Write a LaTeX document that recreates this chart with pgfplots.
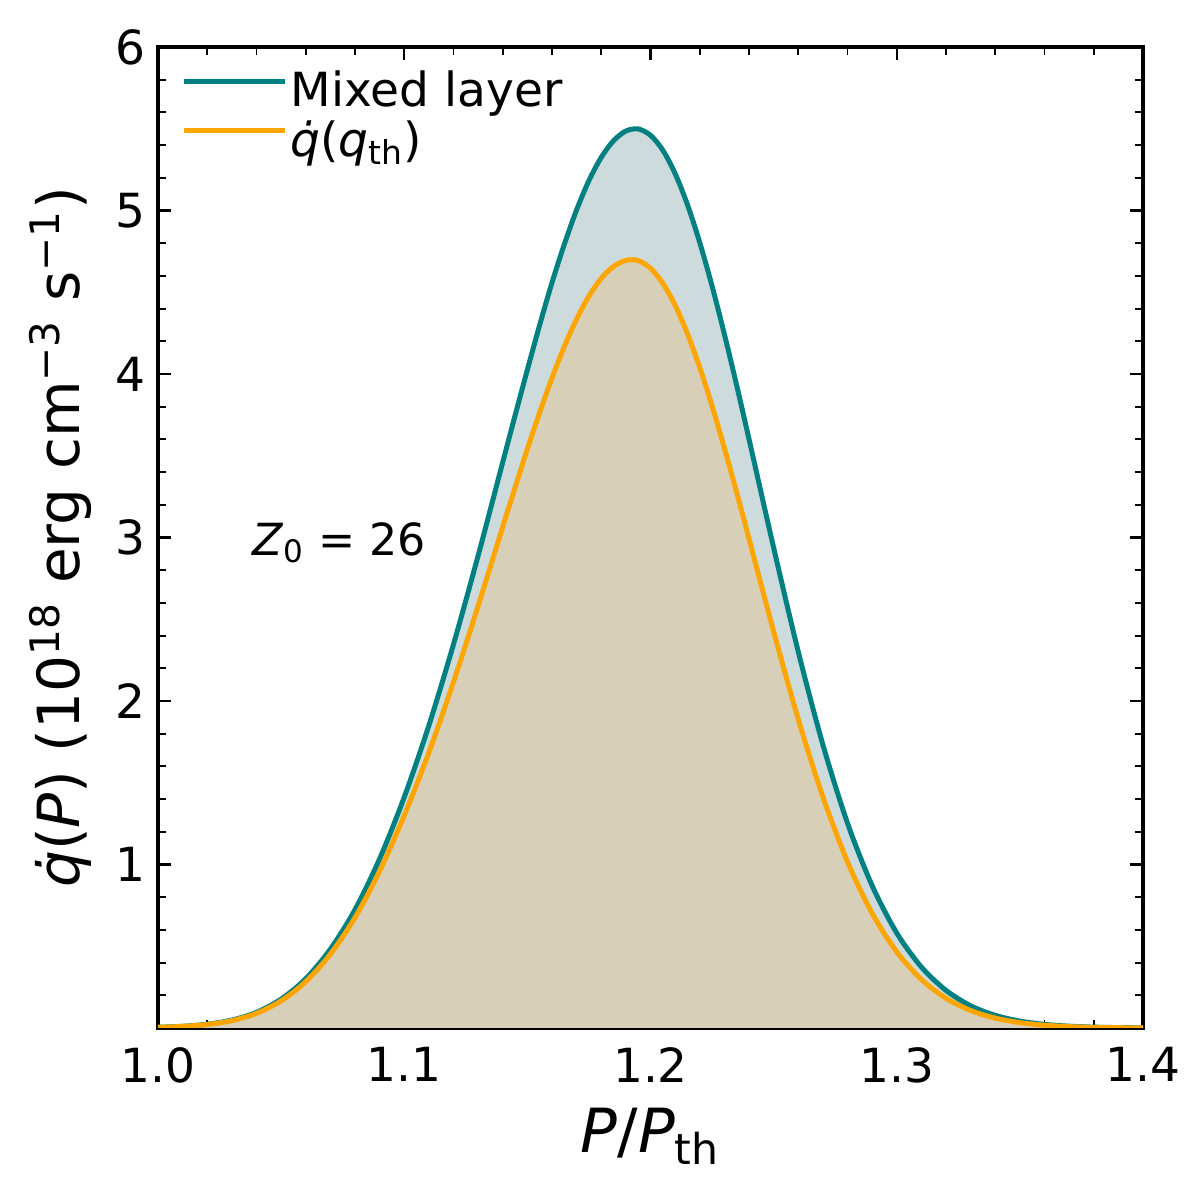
\documentclass[border=0pt]{standalone}
\usepackage{fontspec}
\setmainfont{DejaVu Sans}
\usepackage{pgfplots}
\usepackage{pgfplotstable}
\pgfplotsset{compat=1.18}
\definecolor{tealc}{RGB}{0,128,128}
\definecolor{orangec}{RGB}{255,165,0}
\definecolor{tealfill}{RGB}{205,219,221}
\definecolor{bothfill}{RGB}{216,207,184}

\pgfplotstableread{
x y
1.00 0.0046
1.01 0.0105
1.02 0.0231
1.03 0.0484
1.04 0.0957
1.05 0.1763
1.06 0.3013
1.07 0.4822
1.08 0.7236
1.09 1.0349
1.10 1.412
1.11 1.850
1.12 2.347
1.13 2.889
1.14 3.461
1.145 3.746
1.15 4.026
1.155 4.300
1.16 4.559
1.165 4.793
1.17 5.004
1.175 5.183
1.18 5.325
1.185 5.427
1.19 5.486
1.195 5.499
1.20 5.460
1.205 5.369
1.21 5.226
1.215 5.036
1.22 4.804
1.225 4.538
1.23 4.244
1.235 3.930
1.24 3.602
1.25 2.938
1.26 2.302
1.27 1.733
1.28 1.253
1.29 0.871
1.30 0.581
1.31 0.373
1.32 0.230
1.33 0.136
1.34 0.0774
1.35 0.0423
1.36 0.0222
1.37 0.0112
1.38 0.0054
1.39 0.0025
1.40 0.0011
}\mixed

\pgfplotstableread{
x y
1.00 0.00435
1.01 0.00994
1.02 0.0217
1.03 0.0450
1.04 0.0898
1.05 0.1658
1.06 0.2832
1.07 0.4517
1.08 0.6748
1.09 0.9596
1.10 1.300
1.11 1.685
1.12 2.117
1.13 2.582
1.14 3.066
1.145 3.305
1.15 3.542
1.155 3.765
1.16 3.976
1.165 4.168
1.17 4.336
1.175 4.476
1.18 4.585
1.185 4.658
1.19 4.695
1.195 4.694
1.20 4.647
1.205 4.555
1.21 4.421
1.215 4.247
1.22 4.040
1.225 3.805
1.23 3.548
1.235 3.275
1.24 2.993
1.25 2.426
1.26 1.889
1.27 1.414
1.28 1.017
1.29 0.702
1.30 0.466
1.31 0.297
1.32 0.182
1.33 0.107
1.34 0.0606
1.35 0.0329
1.36 0.0172
1.37 0.0086
1.38 0.0042
1.39 0.0019
1.40 0.0008
}\qth

\begin{document}
\begin{tikzpicture}
\useasboundingbox (-20.066mm,-20.955mm) rectangle (132.334mm,130.556mm);
\begin{axis}[
  scale only axis,
  width=125.095mm, height=124.587mm,
  xmin=1, xmax=1.4, ymin=0, ymax=6,
  xtick={1.0,1.1,1.2,1.3,1.4},
  xticklabels={1.0,1.1,1.2,1.3,1.4},
  minor xtick={1.02,1.04,1.06,1.08,1.12,1.14,1.16,1.18,1.22,1.24,1.26,1.28,1.32,1.34,1.36,1.38},
  ytick={0,1,2,3,4,5,6},
  yticklabels={,1,2,3,4,5,6},
  minor ytick={0.2,0.4,0.6,0.8,1.2,1.4,1.6,1.8,2.2,2.4,2.6,2.8,3.2,3.4,3.6,3.8,4.2,4.4,4.6,4.8,5.2,5.4,5.6,5.8},
  tick align=inside,
  xtick pos=both, ytick pos=both,
  major tick length=1.65mm,
  minor tick length=1.0mm,
  every major tick/.append style={line width=0.9pt, black},
  every minor tick/.append style={line width=0.7pt, black},
  axis line style={line width=1.1pt},
  /pgf/number format/assume math mode=true,
  tick label style={font=\fontsize{17}{20}\selectfont},
  xticklabel style={anchor=north, inner sep=0pt, yshift=-2.41mm},
  yticklabel style={anchor=east, inner sep=0pt, xshift=-1.5mm},
  xlabel={\textit{P}/\textit{P}\textsubscript{th}},
  ylabel={\textit{\.q}(\textit{P}) (10\textsuperscript{18} erg cm\textsuperscript{−3} s\textsuperscript{−1})},
  xlabel style={font=\fontsize{22}{26}\selectfont, at={(axis description cs:0.5,0)}, anchor=base, yshift=-15.75mm},
  ylabel style={font=\fontsize{21}{25}\selectfont, at={(axis description cs:-0.0792,0.5)}, anchor=base},
  legend style={at={(axis description cs:0.02335,0.97655)}, anchor=north west,
    draw=none, fill=none, inner xsep=0pt, inner ysep=0pt,
    font=\fontsize{17}{20}\selectfont,
    nodes={inner sep=0pt}, row sep=1.27mm, column sep=0.4mm},
  legend cell align=left,
  legend image code/.code={\draw[#1, line width=1.8pt] (0mm,0.34em) -- (12.8mm,0.34em);},
  clip=true,
]
\addplot[draw=none, fill=tealfill, smooth, forget plot] table[x=x,y=y]{\mixed} \closedcycle;
\addplot[draw=none, fill=bothfill, smooth, forget plot] table[x=x,y=y]{\qth} \closedcycle;
\addplot[tealc, line width=1.8pt, smooth] table[x=x,y=y]{\mixed};
\addlegendentry{Mixed layer}
\addplot[orangec, line width=1.8pt, smooth] table[x=x,y=y]{\qth};
\addlegendentry{\textit{\.q}(\textit{q}\textsubscript{th})}
\node[font=\fontsize{16}{19}\selectfont] at (axis cs:1.0735,2.97) {\textit{Z}\textsubscript{0} = 26};
\end{axis}
\end{tikzpicture}
\end{document}
